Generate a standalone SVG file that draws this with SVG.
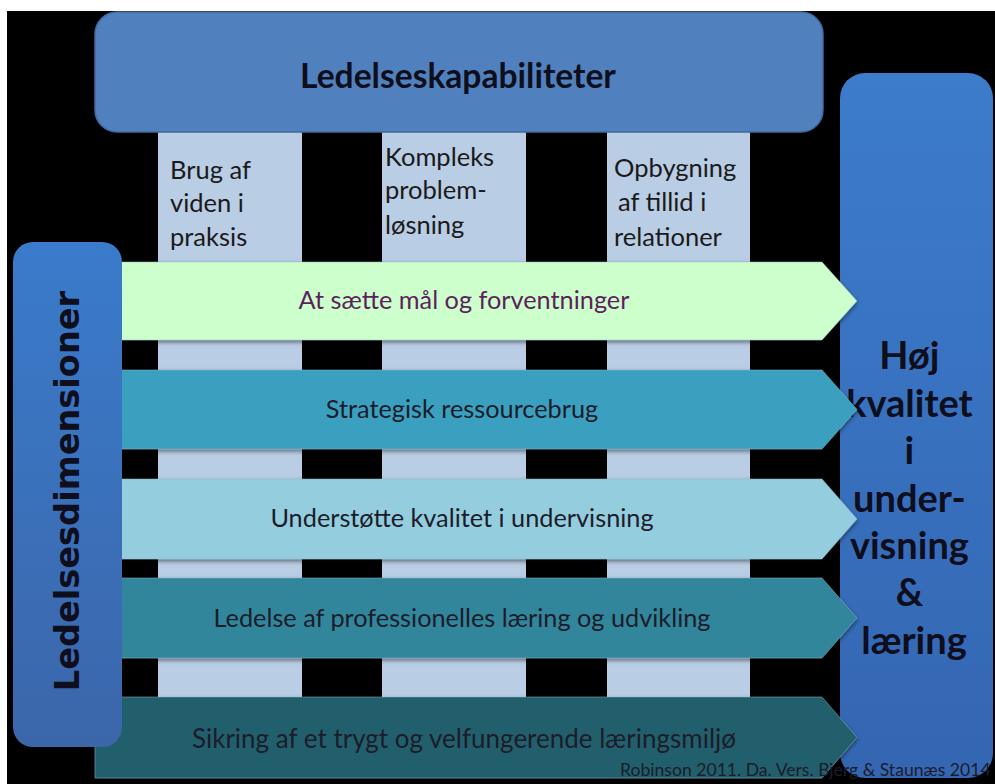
<svg xmlns="http://www.w3.org/2000/svg" width="995" height="784" viewBox="0 0 995 784">
  <defs>
    <linearGradient id="gRight" x1="0" y1="0" x2="0" y2="1">
      <stop offset="0" stop-color="#3C7CCB"/>
      <stop offset="1" stop-color="#3466B2"/>
    </linearGradient>
    <linearGradient id="gLeft" x1="0" y1="0" x2="0" y2="1">
      <stop offset="0" stop-color="#3A7BCB"/>
      <stop offset="1" stop-color="#3B66AA"/>
    </linearGradient>
    <filter id="shadow" x="-5%" y="-10%" width="110%" height="125%">
      <feDropShadow dx="0" dy="2" stdDeviation="2" flood-color="#000" flood-opacity="0.5"/>
    </filter>
  </defs>
  <style>
    .col { fill: #B9CDE5; }
    .coltxt { font-family: Lato, "Liberation Sans", sans-serif; font-size: 25.5px; fill: #1a1a1a; }
    .arr { stroke: #8fb8c8; stroke-width: 0.8; stroke-opacity: 0.6; }
    .arrtxt { font-family: Lato, "Liberation Sans", sans-serif; font-size: 25.3px; fill: #1c1c2a; text-anchor: middle; }
    .bold { font-family: Lato, "Liberation Sans", sans-serif; font-weight: bold; fill: #0e0e1c; text-anchor: middle; }
    .side { font-family: "DejaVu Sans", "Liberation Sans", sans-serif; font-weight: bold; font-size: 33.6px; fill: #0e0e1c; text-anchor: middle; }
    .cite { font-family: Lato, "Liberation Sans", sans-serif; font-size: 17.6px; fill: #1c1c2a; }
  </style>

  <rect x="0" y="0" width="995" height="784" fill="#ffffff"/>
  <rect x="7" y="11" width="988" height="773" fill="#000000"/>

  <g id="columns">
    <rect class="col" x="158" y="128" width="144" height="570"/>
    <rect class="col" x="382" y="128" width="144" height="570"/>
    <rect class="col" x="607" y="128" width="143" height="570"/>
  </g>

  <g id="col-brug">
    <text class="coltxt" x="170" y="179">Brug af</text>
    <text class="coltxt" x="170" y="212">viden i</text>
    <text class="coltxt" x="170" y="246">praksis</text>
  </g>
  <g id="col-kompleks">
    <text class="coltxt" x="385" y="166">Kompleks</text>
    <text class="coltxt" x="385" y="199">problem-</text>
    <text class="coltxt" x="385" y="234">løsning</text>
  </g>
  <g id="col-tillid">
    <text class="coltxt" x="614" y="177">Opbygning</text>
    <text class="coltxt" x="618" y="211">af tillid i</text>
    <text class="coltxt" x="614" y="246">relationer</text>
  </g>

  <g id="header">
    <rect x="95" y="12" width="728" height="120" rx="22" fill="#5081BE" stroke="#3f6a9e" stroke-width="1.5"/>
    <text class="bold" x="458" y="88" font-size="33.6">Ledelseskapabiliteter</text>
  </g>

  <g id="result">
    <rect x="840" y="73" width="153" height="705" rx="25" fill="url(#gRight)"/>
    <text class="bold" font-size="38">
      <tspan x="914" y="369">Høj</tspan>
      <tspan x="914" y="417">kvalitet</tspan>
      <tspan x="914" y="464">i</tspan>
      <tspan x="914" y="512">under-</tspan>
      <tspan x="914" y="559">visning</tspan>
      <tspan x="914" y="606">&amp;</tspan>
      <tspan x="914" y="654">læring</tspan>
    </text>
  </g>

  <g id="connectors"/>

  <g id="dim-maal">
    <polygon class="arr" points="95,262 822,262 857,301 822,340 95,340" fill="#CCFFCC" filter="url(#shadow)"/>
    <text class="arrtxt" x="464" y="309" style="fill:#5E1F5E">At sætte mål og forventninger</text>
  </g>
  <g id="dim-ressource">
    <polygon class="arr" points="95,370 822,370 857,409.5 822,449 95,449" fill="#3AA0BF" filter="url(#shadow)"/>
    <text class="arrtxt" x="462" y="418">Strategisk ressourcebrug</text>
  </g>
  <g id="dim-undervisning">
    <polygon class="arr" points="95,479 822,479 857,519 822,559 95,559" fill="#94CEDE" filter="url(#shadow)"/>
    <text class="arrtxt" x="462" y="527">Understøtte kvalitet i undervisning</text>
  </g>
  <g id="dim-laering">
    <polygon class="arr" points="95,578 822,578 857,618 822,658 95,658" fill="#31869C" filter="url(#shadow)"/>
    <text class="arrtxt" x="462" y="627">Ledelse af professionelles læring og udvikling</text>
  </g>
  <g id="dim-miljoe">
    <polygon class="arr" points="95,697 822,697 857,737.5 822,778 95,778" fill="#245E6C" filter="url(#shadow)"/>
    <text class="arrtxt" x="464" y="748" style="font-size:26px">Sikring af et trygt og velfungerende læringsmiljø</text>
  </g>

  <g id="dimensions">
    <rect x="13" y="242" width="109" height="505" rx="20" fill="url(#gLeft)"/>
    <text class="side" transform="translate(79,491) rotate(-90)" x="0" y="0">Ledelsesdimensioner</text>
  </g>

  <g id="citation">
    <text class="cite" x="620" y="776">Robinson 2011. Da. Vers. Bjerg &amp; Staunæs 2014</text>
  </g>
</svg>
